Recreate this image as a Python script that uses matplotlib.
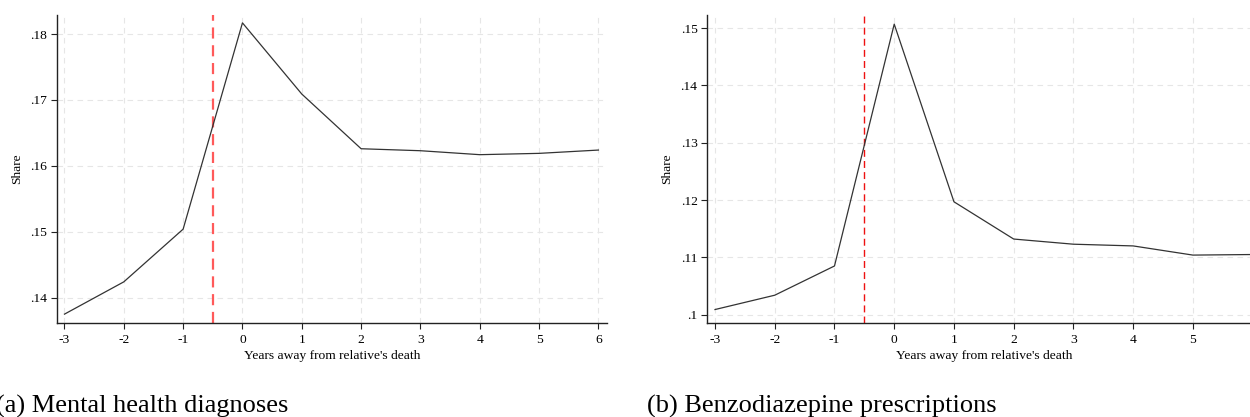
import matplotlib
matplotlib.use('Agg')
import matplotlib.pyplot as plt

# event time (years relative to the relative's death)
years = [-3, -2, -1, 0, 1, 2, 3, 4, 5, 6]

# (a) share with a mental health diagnosis
mental_share = [0.1375, 0.1424, 0.1504, 0.1817, 0.1709, 0.1626, 0.1623, 0.1617, 0.1619, 0.1624]
mental_yticks = [0.14, 0.15, 0.16, 0.17, 0.18]

# (b) share with a benzodiazepine prescription
benzo_share = [0.1009, 0.1034, 0.1085, 0.1507, 0.1197, 0.1132, 0.1123, 0.1120, 0.1104, 0.1105]
benzo_yticks = [0.10, 0.11, 0.12, 0.13, 0.14, 0.15]

plt.rcParams['font.family'] = ['Liberation Serif', 'DejaVu Serif']

fig = plt.figure(figsize=(12.5, 4.17), dpi=100)


def stata_label(v):
    s = ('%.2f' % v).rstrip('0')
    return s[1:] if s.startswith('0') else s


def draw_panel(ax, y, yticks, ylim, vcolor, vwidth):
    ax.plot(years, y, color='#333333', lw=0.9, zorder=3)
    ax.axvline(-0.5, color=vcolor, lw=vwidth, ls=(0, (5, 3)), zorder=2)
    ax.set_xlim(-3.13, 6.14)
    ax.set_ylim(*ylim)
    ax.set_xticks(years)
    ax.set_xticklabels([str(v) for v in years])
    ax.set_yticks(yticks)
    ax.set_yticklabels([stata_label(v) for v in yticks])
    ax.grid(True, color='#e6e6e6', lw=0.8, ls=(0, (5, 4)))
    ax.set_axisbelow(True)
    for side in ('top', 'right'):
        ax.spines[side].set_visible(False)
    for side in ('left', 'bottom'):
        ax.spines[side].set_color('#222222')
        ax.spines[side].set_linewidth(1.0)
    ax.tick_params(direction='out', length=4, width=0.8, labelsize=9.7, color='#222222', pad=3)
    ax.tick_params(axis='x', pad=4)
    ax.set_xlabel("Years away from relative's death", fontsize=9.7, labelpad=3)
    ax.set_ylabel('Share', fontsize=9.7, labelpad=5)


ax1 = fig.add_axes([0.0454, 0.2261, 0.44, 0.738])
draw_panel(ax1, mental_share, mental_yticks, (0.1362, 0.1829), '#ff5a5a', 1.6)

ax2 = fig.add_axes([0.5658, 0.2261, 0.443, 0.738])
draw_panel(ax2, benzo_share, benzo_yticks, (0.0986, 0.1523), '#ee1111', 1.0)

fig.text(-0.003, 0.0096, '(a) Mental health diagnoses', fontsize=19, ha='left', va='baseline')
fig.text(0.5174, 0.0096, '(b) Benzodiazepine prescriptions', fontsize=19, ha='left', va='baseline')

fig.savefig('out.png', dpi=100)
